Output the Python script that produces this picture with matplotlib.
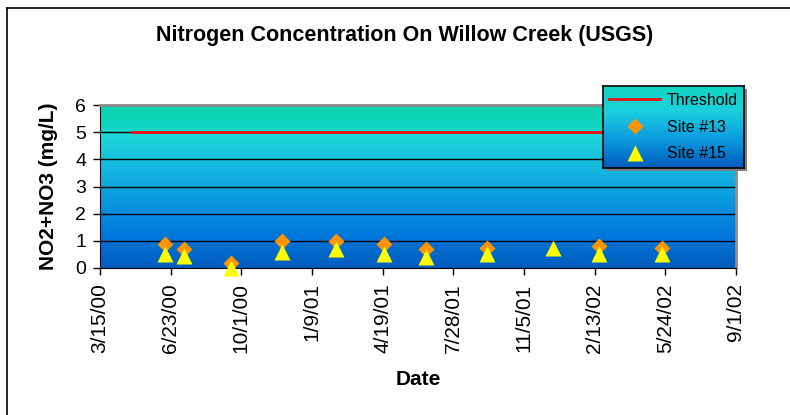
import matplotlib.pyplot as plt
import matplotlib.dates as mdates
from matplotlib.colors import LinearSegmentedColormap
from matplotlib.lines import Line2D
import numpy as np
from datetime import datetime

plt.rcParams['font.family'] = ['Liberation Sans', 'DejaVu Sans']

# data
sample_dates = ['2000-06-15', '2000-07-12', '2000-09-16', '2000-11-28', '2001-02-12',
                '2001-04-21', '2001-06-19', '2001-09-14', '2001-12-16', '2002-02-19',
                '2002-05-19']
site13 = [0.9, 0.7, 0.2, 1.0, 1.0, 0.9, 0.7, 0.75, np.nan, 0.8, 0.75]
site15 = [0.5, 0.45, 0.0, 0.6, 0.7, 0.5, 0.4, 0.5, 0.75, 0.5, 0.5]
threshold_dates = ['2000-04-29', '2002-06-01']
threshold = [5, 5]

tick_dates = ['2000-03-15', '2000-06-23', '2000-10-01', '2001-01-09', '2001-04-19',
              '2001-07-28', '2001-11-05', '2002-02-13', '2002-05-24', '2002-09-01']
tick_labels = ['3/15/00', '6/23/00', '10/1/00', '1/9/01', '4/19/01',
               '7/28/01', '11/5/01', '2/13/02', '5/24/02', '9/1/02']


def to_num(ds):
    return [mdates.date2num(datetime.strptime(d, '%Y-%m-%d')) for d in ds]


x = to_num(sample_dates)
xt = to_num(tick_dates)

fig = plt.figure(figsize=(7.9, 4.15), dpi=100)
W, H = 790, 415
ax = fig.add_axes([100 / W, 1 - 268 / H, 636 / W, 163 / H])

# gradient background
grad = LinearSegmentedColormap.from_list('bg', [
    (0.0, '#005cbc'), (0.2, '#0078dc'), (0.5, '#0ea6e0'),
    (0.75, '#1ccfdc'), (0.82, '#20d6da'), (0.86, '#12d5c2'), (1.0, '#0bd3ae')])
ax.imshow(np.linspace(0, 1, 256).reshape(-1, 1), cmap=grad, aspect='auto',
          origin='lower', extent=[xt[0], xt[-1], 0, 6], zorder=0)

for yv in range(1, 6):
    ax.axhline(yv, color='black', lw=1, zorder=1)

ax.plot(to_num(threshold_dates), threshold, color='#ee1111', lw=2, zorder=2)
ax.plot(x, site13, ls='none', marker='D', ms=8, color='#ff9300', mec='none',
        zorder=3, clip_on=False)
ax.plot(x, site15, ls='none', marker='^', ms=11, color='#ffff00', mec='none',
        zorder=4, clip_on=False)

ax.set_xlim(xt[0], xt[-1])
ax.set_ylim(0, 6)
ax.set_xticks(xt)
ax.set_xticklabels(tick_labels, rotation=90, fontsize=15)
ax.set_yticks(range(0, 7))
ax.tick_params(axis='both', direction='out', length=5, width=1)
ax.tick_params(axis='x', pad=6)
ax.tick_params(axis='y', pad=5, labelsize=14)
for s in ['top', 'right']:
    ax.spines[s].set_color('#8a8a8a')
    ax.spines[s].set_linewidth(2)
for s in ['left', 'bottom']:
    ax.spines[s].set_color('black')

ax.set_ylabel('NO2+NO3 (mg/L)', fontsize=15, fontweight='bold', labelpad=12)
ax.set_xlabel('Date', fontsize=15, fontweight='bold', labelpad=12)
fig.text(405 / W, 1 - 36 / H, 'Nitrogen Concentration On Willow Creek (USGS)',
         ha='center', va='center', fontsize=15.5, fontweight='bold')

# legend box with gradient
shadow = fig.add_axes([606 / W, 1 - 171 / H, 141 / W, 82 / H])
shadow.set_facecolor('#808080')
shadow.set_xticks([])
shadow.set_yticks([])
for s in shadow.spines.values():
    s.set_visible(False)
lax = fig.add_axes([603 / W, 1 - 168 / H, 141 / W, 82 / H])
lgrad = LinearSegmentedColormap.from_list('lg', [
    (0.0, '#005cbc'), (0.35, '#0a9ae0'), (0.7, '#1cd0dc'), (1.0, '#10d4c0')])
lax.imshow(np.linspace(0, 1, 64).reshape(-1, 1), cmap=lgrad, aspect='auto',
           origin='lower', extent=[0, 1, 0, 1])
lax.set_xlim(0, 1)
lax.set_ylim(0, 1)
lax.set_xticks([])
lax.set_yticks([])
for s in lax.spines.values():
    s.set_color('black')
    s.set_linewidth(1.2)
handles = [Line2D([], [], color='#ee1111', lw=2),
           Line2D([], [], ls='none', marker='D', ms=8, color='#ff9300', mec='none'),
           Line2D([], [], ls='none', marker='^', ms=11, color='#ffff00', mec='none')]
lax.legend(handles, ['Threshold', 'Site #13', 'Site #15'], loc='center',
           frameon=False, fontsize=11.5, handlelength=3.2, labelspacing=0.75,
           handletextpad=0.4, borderpad=0.05)

# chart border (cropped at right/bottom)
fig.add_artist(Line2D([7 / W, 7 / W], [0, 1 - 8 / H], color='black', lw=1.2,
                      transform=fig.transFigure))
fig.add_artist(Line2D([7 / W, 1], [1 - 8 / H, 1 - 8 / H], color='black', lw=1.2,
                      transform=fig.transFigure))

fig.savefig('out.png', dpi=100)
